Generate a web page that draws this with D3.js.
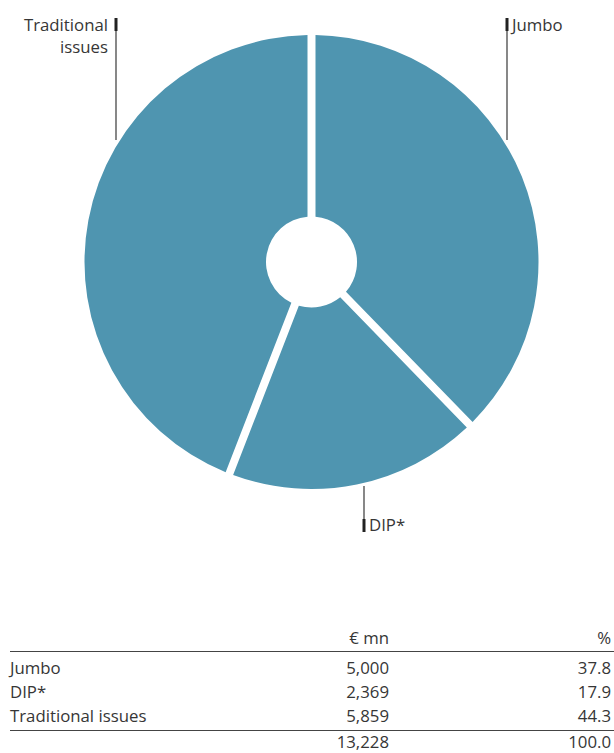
<!DOCTYPE html>
<html>
<head>
<meta charset="utf-8">
<script src="https://cdn.jsdelivr.net/npm/d3@7"></script>
<style>
  html, body { margin: 0; padding: 0; background: #fff; }
  svg { display: block; font-family: "Open Sans", "Noto Sans", sans-serif; }
</style>
</head>
<body>
<svg id="chart" width="614" height="753"></svg>
<script>
// Pfandbrief issuance by segment
const categories = ["Jumbo", "DIP*", "Traditional issues"];
const eurMn = [5000, 2369, 5859];
const shares = ["37.8", "17.9", "44.3"];
const totalEurMn = "13,228";
const totalShare = "100.0";
const columnHeads = ["€ mn", "%"];

const svg = d3.select("#chart");
const cx = 311.5, cy = 262;
const outerR = 227, innerR = 45.5;
const gap = 8;
const fill = "#4f95b0";
const ink = "#363636";
const fontSize = "16.8px";

// Donut
const pie = d3.pie().sort(null).padAngle(gap / outerR);
const arc = d3.arc().innerRadius(innerR).outerRadius(outerR).padRadius(outerR);

const g = svg.append("g").attr("transform", `translate(${cx},${cy})`);
g.selectAll("path")
  .data(pie(eurMn))
  .join("path")
  .attr("d", arc)
  .attr("fill", fill);

// Callout labels
const callouts = [
  { x: 507, y0: 18, y1: 140, tick0: 18, tick1: 31, anchor: "start", lines: [categories[0]], ty: 31 },
  { x: 364, y0: 486, y1: 532, tick0: 519, tick1: 532, anchor: "start", lines: [categories[1]], ty: 531 },
  { x: 116, y0: 18, y1: 140, tick0: 18, tick1: 31, anchor: "end", lines: ["Traditional", "issues"], ty: 31 }
];

const cg = svg.append("g");
callouts.forEach(c => {
  cg.append("line")
    .attr("x1", c.x).attr("x2", c.x)
    .attr("y1", c.y0).attr("y2", c.y1)
    .attr("stroke", "#555").attr("stroke-width", 1.4);
  cg.append("line")
    .attr("x1", c.x).attr("x2", c.x)
    .attr("y1", c.tick0).attr("y2", c.tick1)
    .attr("stroke", "#222").attr("stroke-width", 3);
  const tx = c.anchor === "start" ? c.x + 5 : c.x - 8;
  const t = cg.append("text")
    .attr("x", tx).attr("y", c.ty)
    .attr("text-anchor", c.anchor)
    .attr("fill", ink)
    .style("font-size", fontSize);
  c.lines.forEach((ln, i) => {
    t.append("tspan").attr("x", tx).attr("dy", i === 0 ? 0 : 22).text(ln);
  });
});

// Table
const tableLeft = 10, tableRight = 614;
const colEur = 389, colPct = 611;
const headY = 644, ruleTop = 651.5;
const rowY = d3.scaleLinear().domain([0, 1]).range([674, 698]);
const ruleBottom = 730.5, totalY = 747.5;

const tg = svg.append("g").attr("fill", ink).style("font-size", fontSize);

tg.append("text").attr("x", colEur).attr("y", headY).attr("text-anchor", "end")
  .attr("xml:space", "preserve").text(columnHeads[0]);
tg.append("text").attr("x", colPct).attr("y", headY).attr("text-anchor", "end").text(columnHeads[1]);

svg.append("line")
  .attr("x1", tableLeft).attr("x2", tableRight)
  .attr("y1", ruleTop).attr("y2", ruleTop)
  .attr("stroke", "#444").attr("stroke-width", 1.2);

const rows = tg.selectAll("g.row")
  .data(categories.map((c, i) => ({ c, v: eurMn[i], p: shares[i] })))
  .join("g").attr("class", "row");

rows.append("text").attr("x", tableLeft).attr("y", (d, i) => rowY(i)).text(d => d.c);
rows.append("text").attr("x", colEur).attr("y", (d, i) => rowY(i)).attr("text-anchor", "end")
  .text(d => d3.format(",")(d.v));
rows.append("text").attr("x", colPct).attr("y", (d, i) => rowY(i)).attr("text-anchor", "end")
  .text(d => d.p);

svg.append("line")
  .attr("x1", tableLeft).attr("x2", tableRight)
  .attr("y1", ruleBottom).attr("y2", ruleBottom)
  .attr("stroke", "#444").attr("stroke-width", 1.2);

tg.append("text").attr("x", colEur).attr("y", totalY).attr("text-anchor", "end").text(totalEurMn);
tg.append("text").attr("x", colPct).attr("y", totalY).attr("text-anchor", "end").text(totalShare);
</script>
</body>
</html>
